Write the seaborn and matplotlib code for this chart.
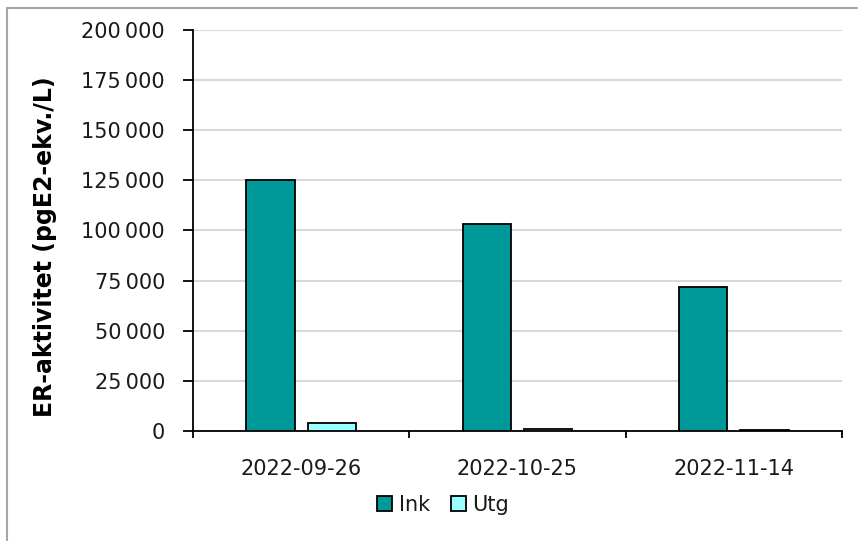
import matplotlib
matplotlib.use("Agg")
import matplotlib.pyplot as plt
import seaborn as sns
import pandas as pd
from matplotlib.patches import Rectangle
from matplotlib.ticker import FuncFormatter, FixedLocator

# Data
dates = ["2022-09-26", "2022-10-25", "2022-11-14"]
ink = [125000, 103000, 72000]
utg = [4000, 1000, 500]
series_names = ["Ink", "Utg"]
y_ticks = [0, 25000, 50000, 75000, 100000, 125000, 150000, 175000, 200000]

df = pd.DataFrame({
    "Datum": dates * 2,
    "Serie": [series_names[0]] * len(dates) + [series_names[1]] * len(dates),
    "Värde": ink + utg,
})

sns.set_theme(style="white")
plt.rcParams["font.family"] = ["DejaVu Sans", "Noto Sans"]

fig = plt.figure(figsize=(8.58, 5.41), dpi=100)
ax = fig.add_axes([193 / 858, 1 - 431 / 541, 649 / 858, 401 / 541])

# Outer frame
fig.patches.append(Rectangle((7 / 858, -0.1), 1.2, 1 - 8 / 541 + 0.1,
                             transform=fig.transFigure, fill=False,
                             edgecolor="#a6a6a6", linewidth=1.5, zorder=0))

palette = {"Ink": "#009999", "Utg": "#99ffff"}
sns.barplot(data=df, x="Datum", y="Värde", hue="Serie", palette=palette,
            width=0.568, gap=0.21, edgecolor="black", linewidth=1.3,
            saturation=1, ax=ax, zorder=3)

ax.set_ylim(0, 200000)
ax.set_xlim(-0.5, 2.5)
ax.yaxis.set_major_locator(FixedLocator(y_ticks))
ax.yaxis.set_major_formatter(FuncFormatter(
    lambda v, p: "0" if v == 0 else f"{int(v):,}".replace(",", "\u202f")))
ax.grid(axis="y", color="#d9d9d9", linewidth=1.5, zorder=0)
ax.set_axisbelow(True)

for s in ["top", "right"]:
    ax.spines[s].set_visible(False)
for s in ["left", "bottom"]:
    ax.spines[s].set_color("black")
    ax.spines[s].set_linewidth(1.3)

ax.tick_params(axis="y", which="major", direction="out", length=7.2, width=1.3,
               color="black", labelsize=15, pad=13, left=True,
               labelcolor="#1a1a1a")
ax.tick_params(axis="x", which="major", length=0, labelsize=15, pad=20,
               labelcolor="#1a1a1a")
ax.set_xticks([0, 1, 2])
ax.set_xticklabels(dates)
ax.set_xticks([-0.5, 0.5, 1.5, 2.5], minor=True)
ax.tick_params(axis="x", which="minor", direction="out", length=5, width=1.3,
               color="black", bottom=True)

ax.set_xlabel("")
ax.set_ylabel("ER-aktivitet (pgE2-ekv./L)", fontsize=17, fontweight="bold",
              color="black")
ax.yaxis.set_label_coords(45 / 858, 1 - 247 / 541, transform=fig.transFigure)
ax.yaxis.label.set_verticalalignment("center")

leg = ax.legend(loc="center", bbox_to_anchor=(443 / 858, 1 - 505 / 541),
                bbox_transform=fig.transFigure, ncol=2, frameon=False,
                fontsize=15, handlelength=0.75, handleheight=0.75,
                handletextpad=0.3, columnspacing=1.0, labelcolor="#1a1a1a")

fig.savefig("out.png", dpi=100)
